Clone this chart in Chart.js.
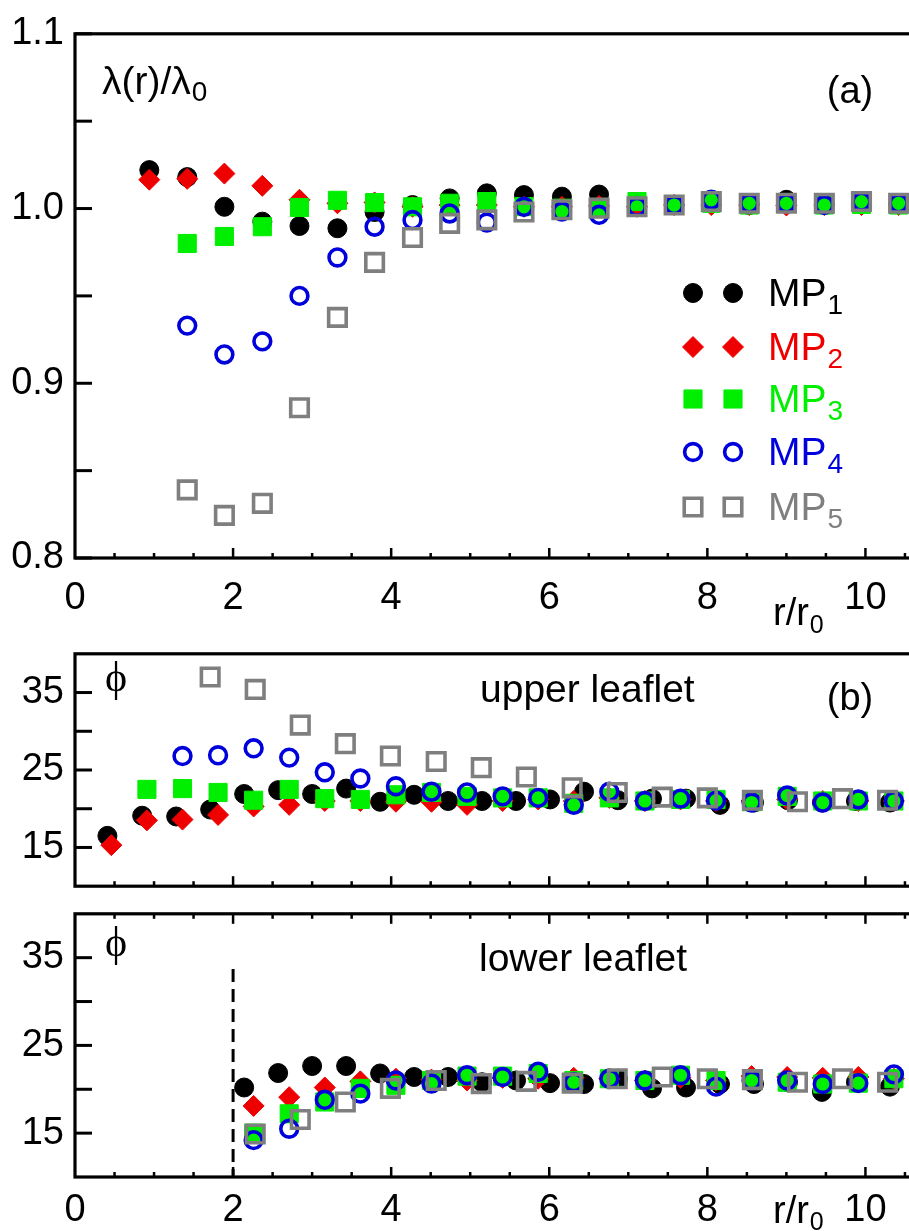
<!DOCTYPE html>
<html>
<head>
<meta charset="utf-8">
<script src="https://cdn.jsdelivr.net/npm/chart.js"></script>
<style>
  html, body { margin: 0; padding: 0; background: #fff; }
  #wrap { position: relative; width: 909px; height: 1231px; overflow: hidden; background: #fff; }
  #wrap canvas { position: absolute; left: 0; }
</style>
</head>
<body>
<div id="wrap">
  <canvas id="ca" width="1000" height="640" style="top:0px"></canvas>
  <canvas id="cb" width="1000" height="300" style="top:620px"></canvas>
  <canvas id="cc" width="1000" height="351" style="top:880px"></canvas>
</div>
<script>
/* ---------- data ---------- */
// panel (a): lambda(r)/lambda0, all series on the same r/r0 grid
const xA = [0.94, 1.42, 1.89, 2.37, 2.84, 3.32, 3.79, 4.27, 4.74, 5.21, 5.68, 6.16, 6.63, 7.11, 7.58, 8.05, 8.53, 9.00, 9.48, 9.95, 10.42];
const mp1A = [1.022, 1.018, 1.001, 0.9925, 0.990, 0.9887, 0.998, 1.002, 1.0058, 1.0087, 1.0077, 1.0068, 1.008, 1.003, 1.002, 1.003, 1.002, 1.005, 1.003, 1.003, 1.003];
const mp2A = [1.0165, 1.017, 1.020, 1.013, 1.005, 1.003, 1.0035, 1.001, 1.002, 1.002, 1.001, 1.001, 1.0015, 1.001, 1.002, 1.002, 1.002, 1.0017, 1.002, 1.002, 1.002];
const mp3A = [null, 0.980, 0.984, 0.9896, 1.0006, 1.0047, 1.0034, 1.001, 1.003, 1.004, 1.0011, 1.0002, 1.0006, 1.004, 1.002, 1.003, 1.002, 1.003, 1.002, 1.0024, 1.002];
const mp4A = [null, 0.933, 0.9165, 0.924, 0.950, 0.972, 0.9896, 0.9934, 0.9972, 0.992, 1.001, 0.9983, 0.9964, 1.001, 1.002, 1.005, 1.003, 1.003, 1.002, 1.004, 1.003];
const mp5A = [null, 0.839, 0.8244, 0.8313, 0.886, 0.9377, 0.9692, 0.9834, 0.9915, 0.9935, 0.998, 0.9993, 1.0002, 1.001, 1.002, 1.004, 1.003, 1.003, 1.003, 1.004, 1.003];

// panels (b) and (c): phi, each series has its own r/r0 grid
const xB1 = [0.41, 0.85, 1.28, 1.71, 2.14, 2.57, 3.00, 3.43, 3.86, 4.29, 4.72, 5.15, 5.58, 6.01, 6.44, 6.87, 7.30, 7.73, 8.16, 8.59, 9.02, 9.45, 9.88, 10.31];
const xB2 = [0.46, 0.91, 1.36, 1.81, 2.26, 2.71, 3.16, 3.61, 4.06, 4.51, 4.96, 5.41, 5.86, 6.31, 6.76, 7.21, 7.66, 8.11, 8.56, 9.01, 9.46, 9.91, 10.36];
const xB5 = [1.71, 2.28, 2.85, 3.42, 3.99, 4.57, 5.14, 5.71, 6.29, 6.86, 7.43, 8.00, 8.57, 9.14, 9.71, 10.28];

// upper leaflet
const mp1B = [16.5, 19.1, 19.0, 19.9, 21.9, 22.4, 21.9, 22.6, 20.9, 21.8, 21.0, 21.0, 21.0, 21.2, 22.2, 21.1, 21.3, 21.3, 20.5, 20.8, 21.1, 20.8, 21.0, 20.8];
const mp2B = [15.3, 18.5, 18.6, 19.2, 20.3, 20.5, 21.0, 21.0, 20.9, 20.9, 20.5, 21.0, 21.2, 21.0, 21.4, 21.0, 21.2, 21.0, 21.0, 21.2, 21.0, 21.0, 21.0];
const mp3B = [null, 22.5, 22.6, 22.1, 21.1, 22.5, 21.3, 21.2, 21.8, 22.1, 21.6, 21.4, 21.4, 20.7, 21.4, 21.0, 21.2, 21.2, 20.9, 21.6, 21.0, 21.0, 21.0];
const mp4B = [null, null, 26.8, 26.9, 27.8, 26.6, 24.7, 23.9, 22.9, 22.2, 22.1, 21.6, 21.4, 20.5, 22.2, 21.0, 21.3, 21.05, 20.8, 21.7, 20.8, 21.2, 21.0];
const mp5B = [37.0, 35.4, 30.8, 28.4, 26.8, 26.1, 25.3, 24.1, 22.7, 22.1, 21.5, 21.4, 21.1, 20.9, 21.3, 21.1];

// lower leaflet
const mp1C = [null, null, null, null, 20.2, 21.85, 22.65, 22.65, 21.8, 21.4, 21.4, 20.8, 21.0, 20.7, 20.6, 21.2, 20.1, 20.2, 20.6, 20.6, 20.8, 19.7, 20.8, 20.3];
const mp2C = [null, null, null, null, 18.1, 19.1, 20.2, 20.9, 21.2, 21.1, 21.0, 21.3, 21.2, 21.3, 21.2, 21.0, 21.3, 21.0, 21.5, 21.4, 21.3, 21.4, 21.2];
const mp3C = [null, null, null, null, 15.0, 17.2, 18.55, 20.1, 20.45, 21.0, 21.5, 21.5, 21.8, 21.0, 21.2, 21.0, 21.6, 21.0, 21.0, 20.8, 20.6, 20.7, 21.2];
const mp4C = [null, null, null, null, 14.2, 15.5, 18.8, 19.5, 21.0, 20.65, 21.6, 21.4, 22.0, 20.8, 21.2, 21.0, 21.6, 20.3, 21.0, 21.0, 20.6, 20.7, 21.7];
const mp5C = [null, 14.9, 16.55, 18.55, 20.1, 21.0, 20.65, 20.9, 20.7, 21.2, 21.4, 21.2, 21.1, 20.8, 21.2, 20.8];

// dashed cut-off line in the lower leaflet panel
const cutX = [2, 2];
const cutY = [33.7, 10];

// axes
const yTicksA = [0.8, 0.85, 0.9, 0.95, 1.0, 1.05, 1.1];
const yLabelsA = ['0.8', '', '0.9', '', '1.0', '', '1.1'];
const yTicksB = [15, 20, 25, 30, 35];
const yLabelsB = ['15', '', '25', '', '35'];
const xTicks = [0, 2, 4, 6, 8, 10];
const xLabels = ['0', '2', '4', '6', '8', '10'];

const names = ['MP', 'MP', 'MP', 'MP', 'MP'];
const subs = ['1', '2', '3', '4', '5'];
const colors = ['#000000', '#ee0000', '#00ee00', '#0000dd', '#7f7f7f'];

/* ---------- styling ---------- */
const FONT = '"Liberation Sans", Arial, Helvetica, sans-serif';
const SERIF = '"Liberation Serif", "DejaVu Serif", serif';
const markers = [
  { pointStyle: 'circle', radius: 9.5, fill: true },
  { pointStyle: 'rectRot', radius: 10.5, fill: true },
  { pointStyle: 'rect', radius: 12.8, fill: true },
  { pointStyle: 'circle', radius: 8.4, fill: false },
  { pointStyle: 'rect', radius: 12.4, fill: false },
];

function pts(xs, ys) {
  return xs.map((x, i) => ({ x: x, y: ys[i] })).filter(p => p.y !== null && p.y !== undefined);
}

function makeSets(xsList, ysList) {
  return ysList.map((ys, k) => {
    const bg = markers[k].fill ? colors[k] : 'rgba(0,0,0,0)';
    const bw = markers[k].fill ? 1 : 3.6;
    return {
      label: names[k] + subs[k],
      data: pts(xsList[k], ys),
      showLine: false,
      pointStyle: markers[k].pointStyle,
      pointRadius: markers[k].radius,
      pointHoverRadius: markers[k].radius,
      backgroundColor: bg,
      pointBackgroundColor: bg,
      borderColor: colors[k],
      pointBorderColor: colors[k],
      borderWidth: bw,
      pointBorderWidth: bw,
      order: 5 - k,
    };
  });
}

function yScale(min, max, ticks, labels) {
  return {
    type: 'linear', min: min, max: max,
    afterFit(s) { s.width = 75; },
    afterBuildTicks(s) { s.ticks = ticks.map(v => ({ value: v })); },
    grid: { display: false, drawTicks: false },
    border: { display: false },
    ticks: {
      autoSkip: false, padding: 11, color: '#000',
      font: { family: FONT, size: 38 },
      callback: (v, i) => labels[i],
    },
  };
}

function xScale(height, pad) {
  return {
    type: 'linear', min: 0, max: 11.5,
    display: height > 0,
    afterFit(s) { s.height = height; },
    afterBuildTicks(s) { s.ticks = xTicks.map(v => ({ value: v })); },
    grid: { display: false, drawTicks: false },
    border: { display: false },
    ticks: {
      autoSkip: false, maxRotation: 0, padding: pad, color: '#000',
      font: { family: FONT, size: 38 },
      callback: (v, i) => xLabels[i],
    },
  };
}

function drawText(ctx, t) {
  ctx.font = t.size + 'px ' + (t.family || FONT);
  ctx.fillStyle = t.color || '#000';
  ctx.textBaseline = 'alphabetic';
  ctx.textAlign = t.align || 'left';
  ctx.fillText(t.text, t.x, t.y);
  if (t.sub) {
    const w = ctx.measureText(t.text).width;
    const sx = t.align === 'center' ? t.x + w / 2 : t.x + w;
    ctx.font = t.subSize + 'px ' + FONT;
    ctx.textAlign = 'left';
    ctx.fillText(t.sub, sx + 1, t.y + t.subDy);
  }
}

function line(ctx, x1, y1, x2, y2) {
  ctx.beginPath();
  ctx.moveTo(x1, y1);
  ctx.lineTo(x2, y2);
  ctx.stroke();
}

// frame, inward ticks, labels and legend
const panelPlugin = {
  id: 'panel',
  afterDatasetsDraw(chart, args, opts) {
    const ctx = chart.ctx;
    const a = chart.chartArea;
    const x = chart.scales.x;
    const y = chart.scales.y;
    ctx.save();
    ctx.strokeStyle = '#000';
    ctx.lineWidth = 3.2;
    ctx.strokeRect(a.left, a.top, a.right - a.left, a.bottom - a.top);

    ctx.lineWidth = 3;
    opts.yTicks.forEach(v => {
      const py = y.getPixelForValue(v);
      line(ctx, a.left, py, a.left + 17, py);
    });
    ctx.lineWidth = 2.5;
    for (let k = 1; k * 0.5 < x.max; k++) {
      const px = x.getPixelForValue(k * 0.5);
      const len = k % 4 === 0 ? 10 : 5;
      if (opts.bottomTicks) line(ctx, px, a.bottom, px, a.bottom - len);
      if (opts.topTicks) line(ctx, px, a.top, px, a.top + len);
    }

    (opts.texts || []).forEach(t => drawText(ctx, t));

    if (opts.legend) {
      const L = opts.legend;
      chart.data.datasets.forEach((ds, k) => {
        if (k >= 5) return;
        const cy = L.rows[k];
        L.mx.forEach(mx => {
          ctx.fillStyle = ds.pointBackgroundColor;
          ctx.strokeStyle = ds.pointBorderColor;
          ctx.lineWidth = ds.pointBorderWidth;
          Chart.helpers.drawPoint(ctx, {
            pointStyle: ds.pointStyle, radius: ds.pointRadius,
            borderWidth: ds.pointBorderWidth, rotation: 0,
          }, mx, cy);
        });
        drawText(ctx, {
          text: names[k], sub: subs[k], x: L.tx, y: cy + 13,
          size: 39, subSize: 28, subDy: 8, color: colors[k],
        });
      });
    }
    ctx.restore();
  },
};

function baseOptions(padding, scales, panel) {
  return {
    responsive: false,
    animation: false,
    events: [],
    layout: { padding: padding },
    scales: scales,
    plugins: {
      legend: { display: false },
      tooltip: { enabled: false },
      panel: panel,
    },
  };
}

/* ---------- panel (a) ---------- */
new Chart(document.getElementById('ca'), {
  type: 'scatter',
  data: { datasets: makeSets([xA, xA, xA, xA, xA], [mp1A, mp2A, mp3A, mp4A, mp5A]) },
  options: baseOptions(
    { top: 28, bottom: 0, left: 0, right: 0 },
    { x: xScale(82, 18), y: yScale(0.8, 1.1, yTicksA, yLabelsA) },
    {
      yTicks: yTicksA, bottomTicks: true, topTicks: false,
      texts: [
        { text: 'λ(r)/λ', sub: '0', x: 102, y: 94, size: 39, subSize: 28, subDy: 7 },
        { text: '(a)', x: 850, y: 103, size: 38, align: 'center' },
        { text: 'r/r', sub: '0', x: 773, y: 625, size: 38, subSize: 25, subDy: 8 },
      ],
      legend: { rows: [293, 347, 399, 452, 507], mx: [693, 733], tx: 768 },
    }
  ),
  plugins: [panelPlugin],
});

/* ---------- panel (b): upper leaflet ---------- */
new Chart(document.getElementById('cb'), {
  type: 'scatter',
  data: { datasets: makeSets([xB1, xB2, xB2, xB2, xB5], [mp1B, mp2B, mp3B, mp4B, mp5B]) },
  options: baseOptions(
    { top: 27, bottom: 7, left: 0, right: 0 },
    { x: xScale(0, 0), y: yScale(10, 40, yTicksB, yLabelsB) },
    {
      yTicks: yTicksB, bottomTicks: true, topTicks: false,
      texts: [
        { text: 'ϕ', x: 116, y: 71, size: 42, family: SERIF, align: 'center' },
        { text: 'upper leaflet', x: 480, y: 82, size: 39 },
        { text: '(b)', x: 850, y: 90, size: 38, align: 'center' },
      ],
    }
  ),
  plugins: [panelPlugin],
});

/* ---------- panel (c): lower leaflet ---------- */
const setsC = makeSets([xB1, xB2, xB2, xB2, xB5], [mp1C, mp2C, mp3C, mp4C, mp5C]);
setsC.push({
  label: 'cut',
  data: pts(cutX, cutY),
  showLine: true,
  borderColor: '#000',
  borderWidth: 3,
  borderDash: [13, 7],
  pointRadius: 0,
  order: 10,
});
new Chart(document.getElementById('cc'), {
  type: 'scatter',
  data: { datasets: setsC },
  options: baseOptions(
    { top: 33, bottom: 0, left: 0, right: 0 },
    { x: xScale(54, 11), y: yScale(10, 40, yTicksB, yLabelsB) },
    {
      yTicks: yTicksB, bottomTicks: true, topTicks: true,
      texts: [
        { text: 'ϕ', x: 116, y: 76, size: 42, family: SERIF, align: 'center' },
        { text: 'lower leaflet', x: 479, y: 91, size: 39 },
        { text: 'r/r', sub: '0', x: 773, y: 343, size: 38, subSize: 25, subDy: 7 },
      ],
    }
  ),
  plugins: [panelPlugin],
});
</script>
</body>
</html>
